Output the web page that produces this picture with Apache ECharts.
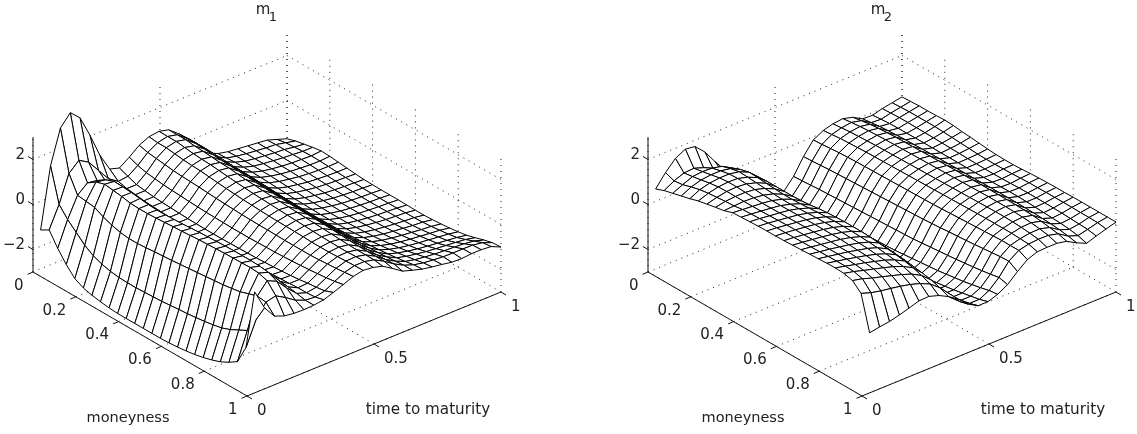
<!DOCTYPE html>
<html><head><meta charset="utf-8">
<style>html,body{margin:0;padding:0;background:#fff}#c{width:1137px;height:434px}</style>
<script src="https://cdn.jsdelivr.net/npm/echarts@6/dist/echarts.min.js"></script>
</head><body><div id="c"></div>
<script>
// Mesh nodes
const timeNodes=[.03,.069,.108,.147,.185,.224,.263,.302,.34,.379,.418,.457,.496,.534,.573,.612,.651,.69,.728,.767,.806,.845,.884,.922,.961,1];
const moneynessNodes=[0,.04,.08,.12,.16,.2,.24,.28,.32,.36,.4,.44,.48,.52,.56,.6,.64,.68,.72,.76,.8,.84,.88,.92,.96,1];
// Surface heights x100: one row per moneyness node, one column per time node
const m1Rows=[
[-127,140,290,340,300,205,98,18,5,35,70,90,96,85,50,10,-40,-90,-110,-120,-125,-130,-135,-140,-155,-170],
[-105,-10,110,150,125,70,15,-15,-10,20,60,85,95,85,50,10,-40,-85,-108,-118,-125,-130,-135,-138,-148,-158],
[-165,-55,35,72,65,35,5,-25,-25,10,55,85,95,85,50,10,-40,-85,-105,-118,-125,-130,-135,-138,-145,-150],
[-215,-90,30,98,90,50,5,-30,-30,5,50,80,90,80,48,8,-40,-85,-105,-118,-125,-130,-135,-138,-142,-142],
[-255,-125,25,110,105,58,5,-35,-35,0,45,75,85,78,45,5,-42,-85,-105,-118,-126,-132,-136,-138,-140,-136],
[-275,-150,5,105,103,55,0,-38,-38,-3,42,72,82,75,42,3,-44,-86,-106,-118,-127,-133,-137,-140,-141,-138],
[-285,-165,-10,100,100,50,-2,-40,-40,-5,40,70,80,72,40,0,-46,-88,-108,-120,-128,-135,-139,-142,-143,-142],
[-292,-175,-20,92,95,48,-5,-42,-42,-8,38,66,76,70,38,-2,-48,-90,-110,-122,-130,-137,-141,-144,-146,-146],
[-297,-180,-25,90,90,45,-8,-44,-44,-10,35,62,72,66,35,-5,-50,-92,-112,-124,-132,-139,-143,-146,-148,-150],
[-300,-182,-25,90,88,42,-10,-45,-45,-12,32,58,68,62,32,-8,-52,-94,-114,-126,-134,-141,-145,-148,-150,-153],
[-300,-182,-22,92,88,42,-10,-46,-46,-13,30,55,65,60,30,-10,-54,-95,-115,-127,-135,-142,-146,-149,-151,-154],
[-300,-180,-18,95,90,44,-9,-46,-46,-14,28,52,62,57,28,-12,-55,-96,-116,-128,-136,-143,-147,-150,-152,-155],
[-300,-178,-15,98,92,45,-8,-45,-46,-15,26,50,60,55,26,-14,-56,-97,-117,-129,-137,-143,-147,-150,-152,-155],
[-300,-176,-12,100,95,47,-6,-44,-45,-15,25,48,58,53,25,-15,-57,-97,-117,-129,-137,-143,-147,-150,-152,-155],
[-300,-172,-8,103,98,50,-4,-42,-44,-15,24,46,56,51,24,-16,-58,-96,-116,-128,-136,-142,-146,-149,-152,-156],
[-298,-168,-4,106,100,52,-2,-40,-43,-14,24,45,54,49,23,-17,-58,-95,-114,-126,-134,-140,-145,-148,-151,-157],
[-295,-165,0,108,102,53,0,-38,-42,-13,23,44,52,47,22,-18,-58,-93,-112,-124,-132,-138,-143,-147,-150,-157],
[-290,-160,4,110,104,54,0,-36,-40,-12,22,43,50,45,21,-18,-57,-91,-109,-121,-129,-135,-140,-145,-148,-155],
[-284,-155,8,112,105,55,2,-34,-38,-10,22,42,48,43,19,-19,-56,-88,-105,-117,-125,-131,-136,-141,-145,-152],
[-275,-148,12,113,105,55,2,-32,-35,-8,22,40,46,41,17,-20,-55,-84,-100,-112,-120,-126,-131,-136,-140,-148],
[-264,-140,18,114,105,54,2,-30,-32,-5,22,40,45,39,15,-21,-54,-80,-95,-106,-114,-120,-125,-130,-135,-143],
[-250,-125,25,115,103,52,0,-28,-28,-2,24,40,44,37,13,-22,-52,-76,-89,-99,-107,-113,-118,-123,-128,-136],
[-230,-105,38,112,98,46,-3,-25,-22,2,27,42,44,36,12,-22,-49,-71,-82,-90,-97,-102,-106,-110,-115,-125],
[-205,-85,50,100,80,32,-10,-25,-18,6,30,44,46,36,12,-20,-46,-65,-75,-81,-86,-89,-91,-94,-100,-113],
[-120,-15,45,55,30,0,-18,-22,-12,12,34,46,46,36,12,-18,-42,-58,-67,-72,-76,-77,-77,-78,-85,-103],
[149,60,5,-12,-18,-20,-18,-12,3,20,38,47,42,30,2,-28,-42,-55,-63,-70,-78,-80,-76,-76,-80,-100]];
const m2Rows=[
[55,110,155,178,172,130,70,15,-50,-100,-150,-180,-195,-190,-140,-70,-14,10,22,27,15,-10,-12,0,8,16],
[70,95,112,115,100,75,40,0,-55,-105,-150,-180,-193,-188,-138,-68,-12,14,26,32,22,-5,-8,2,10,18],
[80,100,118,122,120,110,85,40,-30,-95,-145,-178,-190,-185,-135,-65,-8,18,30,36,28,0,-5,4,12,20],
[90,112,125,130,130,122,100,55,-20,-90,-145,-178,-190,-183,-132,-62,-5,20,32,39,32,3,-4,4,12,20],
[100,122,133,138,138,130,110,70,-10,-88,-145,-178,-190,-182,-130,-60,-3,22,34,41,35,5,-4,3,12,21],
[112,128,138,142,140,128,108,72,0,-85,-145,-178,-190,-180,-128,-58,-1,24,36,43,37,7,-3,3,12,23],
[120,132,140,142,138,125,105,72,5,-82,-145,-178,-190,-178,-126,-56,0,25,37,44,38,8,-3,2,10,21],
[128,136,140,140,135,122,102,72,8,-80,-145,-178,-188,-176,-124,-54,1,26,38,45,39,9,-3,1,8,16],
[135,138,140,138,132,120,100,72,12,-78,-145,-178,-186,-174,-122,-52,2,27,39,46,40,10,-3,0,5,13],
[148,144,140,136,130,118,100,74,18,-72,-142,-176,-184,-172,-120,-50,3,28,40,47,41,11,-3,-1,3,9],
[150,146,141,136,130,118,102,78,25,-66,-140,-176,-184,-170,-118,-48,4,29,41,48,42,11,-3,-2,0,5],
[152,148,142,137,131,120,105,84,32,-60,-138,-175,-183,-168,-116,-46,5,30,42,49,43,12,-3,-3,-1,2],
[154,150,144,138,132,122,108,88,38,-55,-136,-175,-182,-166,-114,-44,6,31,43,50,44,12,-3,-4,-1,1],
[155,151,145,139,133,124,110,90,42,-50,-134,-174,-180,-164,-112,-42,7,32,44,51,44,12,-2,-4,0,1],
[155,151,146,140,134,125,112,92,45,-46,-132,-172,-178,-160,-110,-40,8,33,45,52,45,13,-1,-3,1,3],
[156,152,146,140,134,125,112,92,46,-44,-130,-170,-175,-156,-106,-37,10,34,46,53,46,14,0,-2,3,6],
[158,153,147,141,134,125,112,92,46,-44,-128,-168,-172,-152,-102,-34,12,35,47,54,46,14,1,0,5,8],
[160,154,147,141,134,124,110,90,44,-44,-126,-165,-168,-148,-98,-30,14,36,48,55,46,14,1,0,5,9],
[162,155,148,140,132,122,108,86,42,-44,-122,-160,-164,-144,-94,-27,16,37,49,55,46,14,0,0,6,10],
[164,156,148,140,130,120,105,82,38,-45,-118,-155,-158,-138,-90,-24,18,38,50,55,45,13,-2,0,6,10],
[166,157,148,138,128,116,100,78,34,-46,-114,-150,-152,-132,-85,-20,20,38,50,54,44,12,-4,-1,6,11],
[167,157,146,136,124,112,95,72,28,-46,-110,-145,-146,-126,-80,-16,22,38,49,52,42,10,-6,-2,6,11],
[165,155,142,130,118,105,88,64,22,-46,-106,-138,-138,-118,-74,-12,24,38,47,49,38,8,-8,-4,5,11],
[155,145,130,118,105,92,76,52,14,-44,-100,-130,-130,-110,-68,-8,24,36,43,44,32,4,-12,-6,5,11],
[120,105,95,88,80,70,56,36,2,-44,-95,-122,-122,-100,-60,-6,24,34,38,37,26,-2,-18,-8,4,11],
[-33,-25,-19,-8,5,19,21,7,-15,-45,-85,-110,-110,-95,-70,-30,5,22,24,24,15,-10,-30,-15,-2,11]];
// Ticks and labels
const moneynessTicks=[0,.2,.4,.6,.8,1];
const moneynessLabels=['0','0.2','0.4','0.6','0.8','1'];
const timeTicks=[0,.5,1];
const timeLabels=['0','0.5','1'];
const zTicks=[-2,0,2];
const zLabels=['\u22122','0','2'];
const titles=['m','m'];
const subscripts=['1','2'];
const moneynessName='moneyness';
const timeName='time to maturity';

const panels=[{ox:33,rows:m1Rows},{ox:648,rows:m2Rows}];
const zMin=-3,zMax=3;
function project(p,m,t,z){
  return [p.ox+214*m+254*t, 272+124*m-104*t-135*(z-zMin)/(zMax-zMin)];
}
const dotted=[],solid=[],cells=[],texts=[];
const FONT='"DejaVu Sans",Verdana,sans-serif';
panels.forEach((p,k)=>{
  const seg=(arr,a,b)=>arr.push([a[0],a[1],b[0],b[1]]);
  moneynessTicks.forEach(m=>{
    seg(dotted,project(p,m,0,zMin),project(p,m,1,zMin));
    seg(dotted,project(p,m,1,zMin),project(p,m,1,zMax));
  });
  timeTicks.forEach(t=>{
    seg(dotted,project(p,0,t,zMin),project(p,1,t,zMin));
    seg(dotted,project(p,0,t,zMin),project(p,0,t,zMax));
  });
  zTicks.forEach(z=>{
    seg(dotted,project(p,0,0,z),project(p,0,1,z));
    seg(dotted,project(p,0,1,z),project(p,1,1,z));
  });
  seg(solid,project(p,0,0,zMin),project(p,1,0,zMin));
  seg(solid,project(p,1,0,zMin),project(p,1,1,zMin));
  seg(solid,project(p,0,0,zMin),project(p,0,0,zMax));
  moneynessTicks.forEach((m,i)=>{
    const a=project(p,m,0,zMin);
    seg(solid,a,[a[0]-5.5,a[1]+2.3]);
    texts.push([a[0]-9.5,a[1]+14,moneynessLabels[i],'right',15]);
  });
  timeTicks.forEach((t,i)=>{
    const a=project(p,1,t,zMin);
    seg(solid,a,[a[0]+5,a[1]+3]);
    texts.push([a[0]+10,a[1]+15,timeLabels[i],'left',15]);
  });
  zTicks.forEach((z,i)=>{
    const a=project(p,0,0,z);
    seg(solid,a,[a[0]-5,a[1]-3]);
    texts.push([a[0]-8,a[1]-4,zLabels[i],'right',15]);
  });
  const top=project(p,0,1,zMax);
  texts.push([top[0]-24,10,titles[k],'center',15]);
  texts.push([top[0]-14,18,subscripts[k],'center',13]);
  const c1=project(p,1,0,zMin);
  texts.push([c1[0]-119,418,moneynessName,'center',14.5]);
  texts.push([c1[0]+181,410,timeName,'center',15.2]);
  for(let i=0;i<moneynessNodes.length-1;i++){
    for(let j=timeNodes.length-2;j>=0;j--){
      const q=[[i,j],[i,j+1],[i+1,j+1],[i+1,j]];
      const cell=[];
      q.forEach(n=>{
        const pt=project(p,moneynessNodes[n[0]],timeNodes[n[1]],p.rows[n[0]][n[1]]/100);
        cell.push(pt[0],pt[1]);
      });
      cells.push(cell);
    }
  }
});
function lineRender(style){
  return (params,api)=>{
    const a=api.coord([api.value(0),api.value(1)]),b=api.coord([api.value(2),api.value(3)]);
    return {type:'line',shape:{x1:a[0],y1:a[1],x2:b[0],y2:b[1]},style:style,silent:true};
  };
}
const chart=echarts.init(document.getElementById('c'),null,{renderer:'canvas'});
chart.setOption({
  animation:false,
  backgroundColor:'#fff',
  grid:{left:0,top:0,right:0,bottom:0},
  xAxis:{type:'value',min:0,max:1137,show:false},
  yAxis:{type:'value',min:0,max:434,inverse:true,show:false},
  series:[
    {type:'custom',clip:false,progressive:0,silent:true,data:dotted,
      encode:{x:0,y:1},
      renderItem:lineRender({stroke:'#222',lineWidth:1,lineDash:[1,5],fill:null})},
    {type:'custom',clip:false,progressive:0,silent:true,data:solid,
      encode:{x:0,y:1},
      renderItem:lineRender({stroke:'#111',lineWidth:1,fill:null})},
    {type:'custom',clip:false,progressive:0,silent:true,data:cells,
      encode:{x:0,y:1},
      renderItem:(params,api)=>{
        const pts=[];
        for(let n=0;n<4;n++) pts.push(api.coord([api.value(2*n),api.value(2*n+1)]));
        return {type:'polygon',shape:{points:pts},style:{fill:'#fff',stroke:'#000',lineWidth:1,lineJoin:'round'},silent:true};
      }},
    {type:'custom',clip:false,progressive:0,silent:true,
      data:texts.map(t=>[t[0],t[1]]),
      encode:{x:0,y:1},
      renderItem:(params,api)=>{
        const t=texts[params.dataIndex];
        const a=api.coord([t[0],t[1]]);
        return {type:'text',silent:true,style:{x:a[0],y:a[1],text:t[2],align:t[3],textAlign:t[3],verticalAlign:'middle',textVerticalAlign:'middle',
          fill:'#222',font:t[4]+'px '+FONT}};
      }}
  ]
});
</script></body></html>
